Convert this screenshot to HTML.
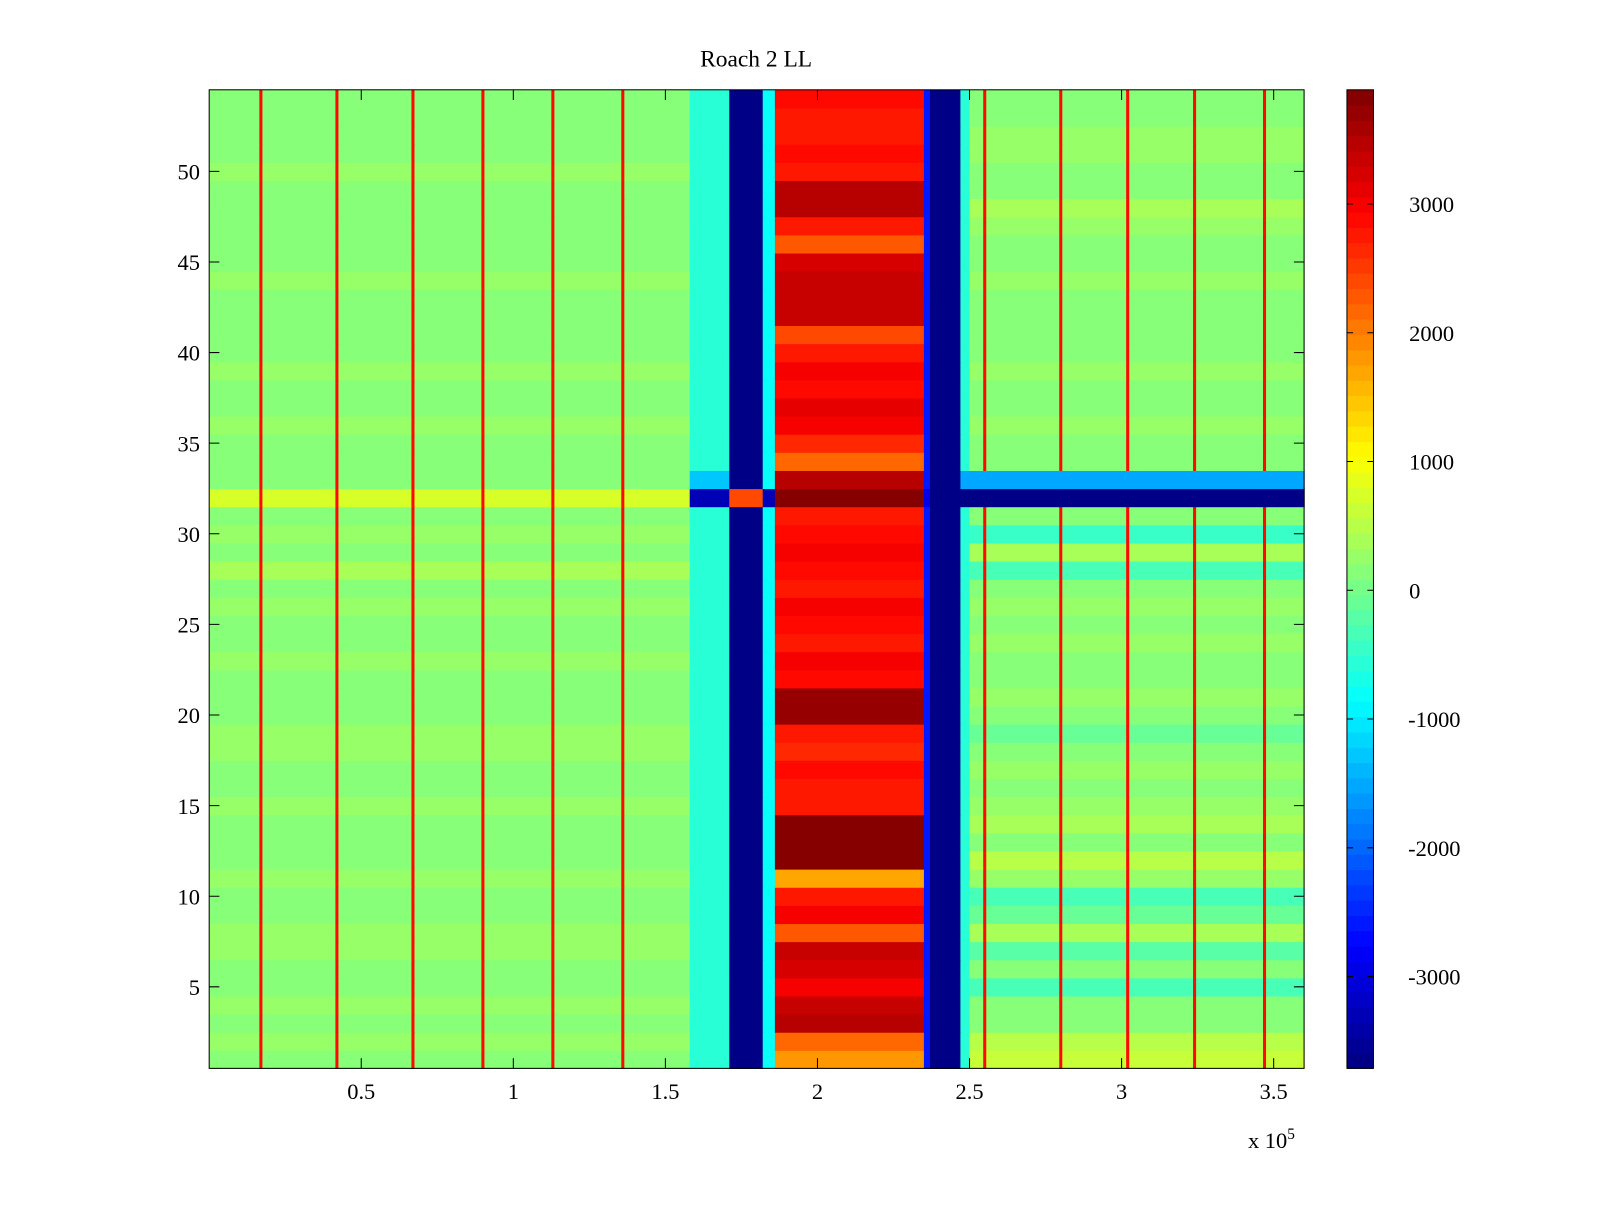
<!DOCTYPE html>
<html><head><meta charset="utf-8"><style>
html,body{margin:0;padding:0;background:#fff;}
svg text{font-family:"Liberation Serif",serif;fill:#000;}
</style></head><body>
<svg id="chart" width="1600" height="1200" viewBox="0 0 1600 1200" xmlns="http://www.w3.org/2000/svg">
<rect width="1600" height="1200" fill="#fff"/>
<g transform="scale(1.020408)">
<text x="741" y="65" font-size="23" text-anchor="middle">Roach 2 LL</text>
<g id="cells"></g>
<g id="cbar"></g>
<g id="axes"></g>
<text x="1223" y="1125" font-size="22">x 10<tspan dy="-9" font-size="15">5</tspan></text>
</g>
</svg>
<script>
// ---- data ----
const xEdges = [0,0.165,0.175,0.415,0.425,0.665,0.675,0.895,0.905,1.125,1.135,1.355,1.365,1.58,1.71,1.82,1.86,2.35,2.37,2.47,2.50,2.545,2.555,2.795,2.805,3.015,3.025,3.235,3.245,3.465,3.475,3.6];
const segKind = ['L','line','L','line','L','line','L','line','L','line','L','line','L','cyan','blue','mid','red','thin','blue','cyan','R','line','R','line','R','line','R','line','R','line','R'];
const segValue = {line:2900, cyan:-600, blue:-3700, mid:-800, thin:-2600};
const bgLeft = [150,250,100,300,200,100,250,300,150,200,250,150,100,200,250,150,200,300,250,200,150,200,250,100,200,300,150,350,200,250,150,500,200,150,100,250,200,150,250,200,150,100,200,250,150,200,100,150,200,250,150,200,100,150];
const bgRight = [600,550,200,100,-300,200,-200,400,-100,-300,300,450,100,350,250,100,300,200,-100,100,300,200,100,250,150,300,200,-300,400,-400,150,-3700,-1500,200,100,300,200,150,250,200,150,200,100,300,200,150,250,350,100,200,300,250,150,200];
const redRow = [1800,2200,3500,3400,3000,3200,3400,2300,3000,2800,1700,3800,3800,3800,2800,2700,2900,2600,2800,3700,3700,2900,3000,2800,2900,3000,2800,2900,3000,2900,2800,3850,3500,2200,2600,3000,3100,2900,3000,2800,2400,3300,3400,3300,3200,2300,2800,3500,3500,2800,2900,2700,2800,2900];
const row32 = {L:700, line:2900, cyan:-3300, blue:2400, mid:-3300, red:3850, thin:-3000};
const yTicks = [5,10,15,20,25,30,35,40,45,50];
const xTicks = [0.5,1,1.5,2,2.5,3,3.5];
const xTickLabels = ['0.5','1','1.5','2','2.5','3','3.5'];
const cTicks = [-3000,-2000,-1000,0,1000,2000,3000];
// ---- scales ----
const L=205,R=1278,T=88,B=1047, xMin=0,xMax=3.6, yMin=0.5,yMax=54.5, cMin=-3713,cMax=3887;
const xs=v=>L+(v-xMin)/(xMax-xMin)*(R-L);
const ys=v=>B-(v-yMin)/(yMax-yMin)*(B-T);
function jet(v){let t=(v-cMin)/(cMax-cMin);t=Math.max(0,Math.min(0.9999,t));t=(Math.floor(t*64)+0.5)/64;
 const f=x=>Math.round(255*Math.max(0,Math.min(1,1.5-Math.abs(4*t-x))));return `rgb(${f(3)},${f(2)},${f(1)})`;}
function cellValue(row,s){const k=segKind[s];
 if(row===32){ if(s>=18) return -3700; return row32[k]; }
 if(row===33 && s>=18 && k!=='blue') return -1500;
 if(row===33 && k==='cyan') return -1300;
 if(k==='L') return bgLeft[row-1];
 if(k==='R') return bgRight[row-1];
 if(k==='red') return redRow[row-1];
 return segValue[k];}
const NS='http://www.w3.org/2000/svg';
const cells=document.getElementById('cells');
for(let row=1;row<=54;row++){for(let s=0;s<segKind.length;s++){
 const r=document.createElementNS(NS,'rect');
 const x0=xs(xEdges[s]),x1=xs(xEdges[s+1]),y0=ys(row+0.5),y1=ys(row-0.5);
 r.setAttribute('x',x0);r.setAttribute('y',y0);r.setAttribute('width',x1-x0+0.6);r.setAttribute('height',y1-y0+0.6);
 r.setAttribute('fill',jet(cellValue(row,s)));
 
 
 cells.appendChild(r);}}
const axes=document.getElementById('axes');
function add(tag,attrs,txt){const e=document.createElementNS(NS,tag);for(const k in attrs)e.setAttribute(k,attrs[k]);if(txt!==undefined)e.textContent=txt;axes.appendChild(e);return e;}
const frame=add('rect',{x:L,y:T,width:R-L,height:B-T,fill:'none',stroke:'#000','stroke-width':1});


yTicks.forEach(v=>{const y=ys(v);
 const a=add('path',{d:`M${L} ${y}H${L+10}M${R} ${y}H${R-10}`,stroke:'#000'});
 
 
 const t=add('text',{x:L-9,y:y+8,'font-size':22,'text-anchor':'end'},String(v));
 
 });
xTicks.forEach((v,i)=>{const x=xs(v);
 const a=add('path',{d:`M${x} ${B}V${B-10}M${x} ${T}V${T+10}`,stroke:'#000'});
 
 
 const t=add('text',{x:x,y:B+30,'font-size':22,'text-anchor':'middle'},xTickLabels[i]);
 
 });
// colorbar
const cb=document.getElementById('cbar');const CL=1320,CR=1346;
for(let i=0;i<64;i++){const v0=cMin+(cMax-cMin)*i/64,v1=cMin+(cMax-cMin)*(i+1)/64;
 const y0=B-(v1-cMin)/(cMax-cMin)*(B-T),y1=B-(v0-cMin)/(cMax-cMin)*(B-T);
 const r=document.createElementNS(NS,'rect');
 r.setAttribute('x',CL);r.setAttribute('y',y0);r.setAttribute('width',CR-CL);r.setAttribute('height',y1-y0+0.5);
 r.setAttribute('fill',jet((v0+v1)/2));
 
 
 cb.appendChild(r);}
const cf=document.createElementNS(NS,'rect');
cf.setAttribute('x',CL);cf.setAttribute('y',T);cf.setAttribute('width',CR-CL);cf.setAttribute('height',B-T);cf.setAttribute('fill','none');cf.setAttribute('stroke','#000');


cb.appendChild(cf);
cTicks.forEach(v=>{const y=B-(v-cMin)/(cMax-cMin)*(B-T);
 const p=document.createElementNS(NS,'path');p.setAttribute('d',`M${CL} ${y}H${CL+6}M${CR} ${y}H${CR-6}`);p.setAttribute('stroke','#000');
 
 
 cb.appendChild(p);
 const t=document.createElementNS(NS,'text');t.setAttribute('x',CR+35);t.setAttribute('y',y+8);t.setAttribute('font-size',22);t.setAttribute('text-anchor','start');
 if(v<0)t.setAttribute('x',CR+34);
 t.textContent=String(v);
 
 
 cb.appendChild(t);});
</script>
</body></html>
